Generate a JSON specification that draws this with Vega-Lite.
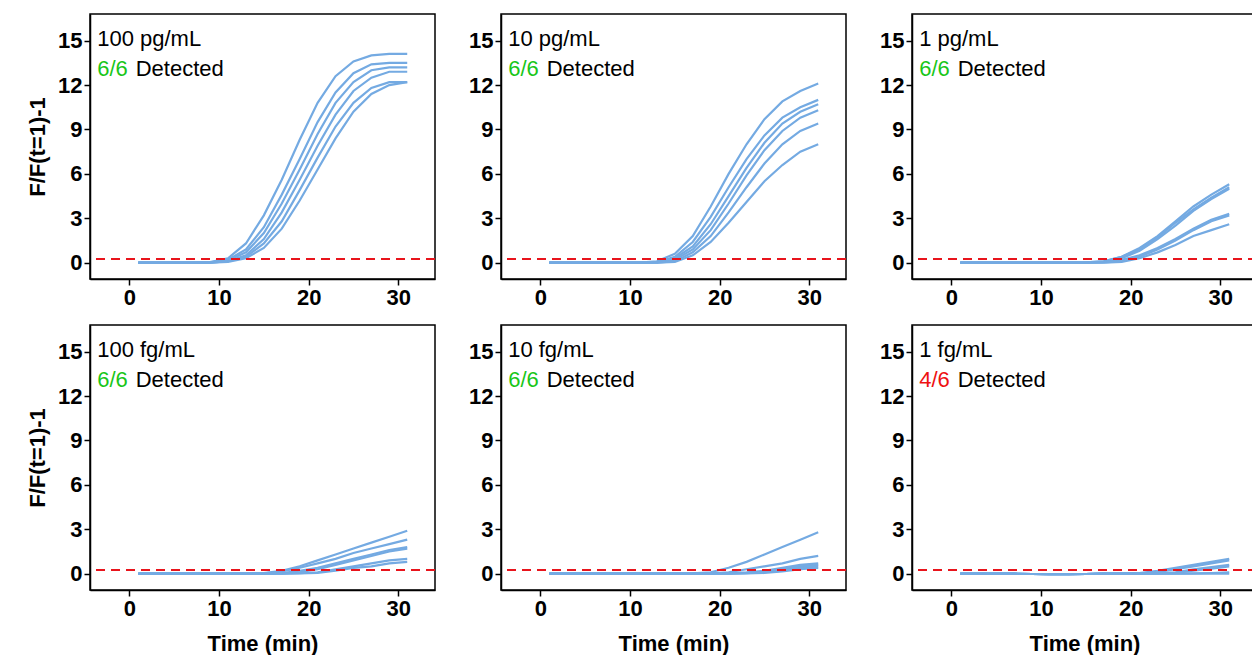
{
"$schema":"https://vega.github.io/schema/vega-lite/v6.json",
"background":"white",
"padding":{"left":25,"top":13,"right":0,"bottom":0},
"config":{"view":{"stroke":"black","strokeWidth":1.5},
"axis":{"grid":false,"domainColor":"black","tickColor":"black","tickSize":6,"labelFont":"Liberation Sans","labelFontSize":22,"labelFontWeight":"bold","labelColor":"black","titleFont":"Liberation Sans","titleFontSize":22,"titleFontWeight":"bold","titleColor":"black","domainWidth":1.5,"tickWidth":1.5},
"axisX":{"titlePadding":14}},
"datasets":{
"labels":[
{"p":1,"conc":"100 pg/mL","det":"6/6","col":"#19c619","thr":0.25},
{"p":2,"conc":"10 pg/mL","det":"6/6","col":"#19c619","thr":0.25},
{"p":3,"conc":"1 pg/mL","det":"6/6","col":"#19c619","thr":0.25},
{"p":4,"conc":"100 fg/mL","det":"6/6","col":"#19c619","thr":0.25},
{"p":5,"conc":"10 fg/mL","det":"6/6","col":"#19c619","thr":0.25},
{"p":6,"conc":"1 fg/mL","det":"4/6","col":"#ee1111","thr":0.25}],
"curves":[
{"p":1,"t":1,"a":0,"b":0,"c":0,"d":0,"e":0,"f":0},{"p":1,"t":3,"a":0,"b":0,"c":0,"d":0,"e":0,"f":0},{"p":1,"t":5,"a":0,"b":0,"c":0,"d":0,"e":0,"f":0},{"p":1,"t":7,"a":0,"b":0,"c":0,"d":0,"e":0,"f":0},{"p":1,"t":9,"a":0.05,"b":0.03,"c":0.02,"d":0,"e":0,"f":0},
{"p":1,"t":11,"a":0.3,"b":0.2,"c":0.15,"d":0.1,"e":0.1,"f":0.05},{"p":1,"t":13,"a":1.3,"b":0.9,"c":0.7,"d":0.5,"e":0.4,"f":0.3},{"p":1,"t":15,"a":3.2,"b":2.4,"c":2.0,"d":1.6,"e":1.3,"f":1.0},{"p":1,"t":17,"a":5.6,"b":4.6,"c":4.0,"d":3.4,"e":2.8,"f":2.3},{"p":1,"t":19,"a":8.3,"b":7.0,"c":6.3,"d":5.6,"e":4.9,"f":4.2},{"p":1,"t":21,"a":10.8,"b":9.5,"c":8.7,"d":7.9,"e":7.1,"f":6.3},{"p":1,"t":23,"a":12.6,"b":11.5,"c":10.8,"d":10.0,"e":9.2,"f":8.4},{"p":1,"t":25,"a":13.6,"b":12.8,"c":12.2,"d":11.6,"e":10.8,"f":10.2},{"p":1,"t":27,"a":14.0,"b":13.4,"c":13.0,"d":12.5,"e":11.8,"f":11.4},{"p":1,"t":29,"a":14.1,"b":13.5,"c":13.2,"d":12.9,"e":12.2,"f":12.0},{"p":1,"t":31,"a":14.1,"b":13.5,"c":13.2,"d":12.9,"e":12.2,"f":12.2},
{"p":2,"t":1,"a":0,"b":0,"c":0,"d":0,"e":0,"f":0},{"p":2,"t":3,"a":0,"b":0,"c":0,"d":0,"e":0,"f":0},{"p":2,"t":5,"a":0,"b":0,"c":0,"d":0,"e":0,"f":0},{"p":2,"t":7,"a":0,"b":0,"c":0,"d":0,"e":0,"f":0},{"p":2,"t":9,"a":0,"b":0,"c":0,"d":0,"e":0,"f":0},{"p":2,"t":11,"a":0,"b":0,"c":0,"d":0,"e":0,"f":0},
{"p":2,"t":13,"a":0.1,"b":0.05,"c":0.03,"d":0.02,"e":0,"f":0},{"p":2,"t":15,"a":0.6,"b":0.4,"c":0.3,"d":0.2,"e":0.1,"f":0.05},{"p":2,"t":17,"a":1.8,"b":1.4,"c":1.1,"d":0.9,"e":0.7,"f":0.5},{"p":2,"t":19,"a":3.8,"b":3.1,"c":2.6,"d":2.2,"e":1.8,"f":1.4},{"p":2,"t":21,"a":6.0,"b":5.1,"c":4.5,"d":4.0,"e":3.4,"f":2.7},{"p":2,"t":23,"a":8.0,"b":7.0,"c":6.4,"d":5.9,"e":5.1,"f":4.1},{"p":2,"t":25,"a":9.7,"b":8.6,"c":8.1,"d":7.6,"e":6.7,"f":5.5},{"p":2,"t":27,"a":10.9,"b":9.8,"c":9.4,"d":8.9,"e":8.0,"f":6.6},{"p":2,"t":29,"a":11.6,"b":10.5,"c":10.2,"d":9.8,"e":8.9,"f":7.5},{"p":2,"t":31,"a":12.1,"b":11.0,"c":10.7,"d":10.3,"e":9.4,"f":8.0},
{"p":3,"t":1,"a":0,"b":0,"c":0,"d":0,"e":0,"f":0},{"p":3,"t":3,"a":0,"b":0,"c":0,"d":0,"e":0,"f":0},{"p":3,"t":5,"a":0,"b":0,"c":0,"d":0,"e":0,"f":0},{"p":3,"t":7,"a":0,"b":0,"c":0,"d":0,"e":0,"f":0},{"p":3,"t":9,"a":0,"b":0,"c":0,"d":0,"e":0,"f":0},{"p":3,"t":11,"a":0,"b":0,"c":0,"d":0,"e":0,"f":0},{"p":3,"t":13,"a":0,"b":0,"c":0,"d":0,"e":0,"f":0},{"p":3,"t":15,"a":0.02,"b":0.02,"c":0,"d":0,"e":0,"f":0},
{"p":3,"t":17,"a":0.1,"b":0.1,"c":0.05,"d":0.05,"e":0.02,"f":0},{"p":3,"t":19,"a":0.4,"b":0.4,"c":0.3,"d":0.2,"e":0.1,"f":0.05},{"p":3,"t":21,"a":1.0,"b":0.9,"c":0.8,"d":0.5,"e":0.4,"f":0.3},{"p":3,"t":23,"a":1.8,"b":1.7,"c":1.6,"d":1.0,"e":0.9,"f":0.7},{"p":3,"t":25,"a":2.8,"b":2.7,"c":2.5,"d":1.6,"e":1.5,"f":1.2},{"p":3,"t":27,"a":3.8,"b":3.6,"c":3.5,"d":2.3,"e":2.2,"f":1.8},{"p":3,"t":29,"a":4.6,"b":4.4,"c":4.3,"d":2.9,"e":2.8,"f":2.2},{"p":3,"t":31,"a":5.3,"b":5.1,"c":5.0,"d":3.3,"e":3.2,"f":2.6},
{"p":4,"t":1,"a":0,"b":0,"c":0,"d":0,"e":0,"f":0},{"p":4,"t":3,"a":0,"b":0,"c":0,"d":0,"e":0,"f":0},{"p":4,"t":5,"a":0,"b":0,"c":0,"d":0,"e":0,"f":0},{"p":4,"t":7,"a":0,"b":0,"c":0,"d":0,"e":0,"f":0},{"p":4,"t":9,"a":0,"b":0,"c":0,"d":0,"e":0,"f":0},{"p":4,"t":11,"a":0,"b":0,"c":0,"d":0,"e":0,"f":0},{"p":4,"t":13,"a":0,"b":0,"c":0,"d":0,"e":0,"f":0},
{"p":4,"t":15,"a":0.05,"b":0.02,"c":0,"d":0,"e":0,"f":0},{"p":4,"t":17,"a":0.2,"b":0.15,"c":0.05,"d":0.02,"e":0,"f":0},{"p":4,"t":19,"a":0.5,"b":0.4,"c":0.2,"d":0.1,"e":0.03,"f":0.02},{"p":4,"t":21,"a":0.9,"b":0.7,"c":0.4,"d":0.3,"e":0.1,"f":0.05},{"p":4,"t":23,"a":1.3,"b":1.0,"c":0.7,"d":0.6,"e":0.3,"f":0.2},{"p":4,"t":25,"a":1.7,"b":1.4,"c":1.0,"d":0.9,"e":0.5,"f":0.4},{"p":4,"t":27,"a":2.1,"b":1.7,"c":1.3,"d":1.2,"e":0.7,"f":0.5},{"p":4,"t":29,"a":2.5,"b":2.0,"c":1.6,"d":1.5,"e":0.9,"f":0.7},{"p":4,"t":31,"a":2.9,"b":2.3,"c":1.8,"d":1.7,"e":1.0,"f":0.8},
{"p":5,"t":1,"a":0,"b":0,"c":0,"d":0,"e":0,"f":0},{"p":5,"t":3,"a":0,"b":0,"c":0,"d":0,"e":0,"f":0},{"p":5,"t":5,"a":0,"b":0,"c":0,"d":0,"e":0,"f":0},{"p":5,"t":7,"a":0,"b":0,"c":0,"d":0,"e":0,"f":0},{"p":5,"t":9,"a":0,"b":0,"c":0,"d":0,"e":0,"f":0},{"p":5,"t":11,"a":0,"b":0,"c":0,"d":0,"e":0,"f":0},{"p":5,"t":13,"a":0,"b":0,"c":0,"d":0,"e":0,"f":0},{"p":5,"t":15,"a":0,"b":0,"c":0,"d":0,"e":0,"f":0},{"p":5,"t":17,"a":0.02,"b":0,"c":0,"d":0,"e":0,"f":0},
{"p":5,"t":19,"a":0.1,"b":0.02,"c":0,"d":0,"e":0,"f":0},{"p":5,"t":21,"a":0.4,"b":0.1,"c":0.03,"d":0.02,"e":0,"f":0},{"p":5,"t":23,"a":0.8,"b":0.3,"c":0.1,"d":0.05,"e":0.03,"f":0.02},{"p":5,"t":25,"a":1.3,"b":0.5,"c":0.2,"d":0.15,"e":0.1,"f":0.05},{"p":5,"t":27,"a":1.8,"b":0.7,"c":0.4,"d":0.3,"e":0.2,"f":0.15},{"p":5,"t":29,"a":2.3,"b":1.0,"c":0.6,"d":0.5,"e":0.4,"f":0.3},{"p":5,"t":31,"a":2.8,"b":1.2,"c":0.7,"d":0.6,"e":0.5,"f":0.4},
{"p":6,"t":1,"a":0,"b":0,"c":0,"d":0,"e":0,"f":0},{"p":6,"t":3,"a":0,"b":0,"c":0,"d":0,"e":0,"f":0},{"p":6,"t":5,"a":0,"b":0,"c":0,"d":0,"e":0,"f":0},{"p":6,"t":7,"a":0,"b":0,"c":0,"d":0,"e":0,"f":0},{"p":6,"t":9,"a":-0.02,"b":-0.02,"c":-0.02,"d":-0.02,"e":-0.02,"f":-0.02},{"p":6,"t":11,"a":-0.03,"b":-0.03,"c":-0.03,"d":-0.03,"e":-0.03,"f":-0.03},{"p":6,"t":13,"a":-0.03,"b":-0.03,"c":-0.03,"d":-0.03,"e":-0.03,"f":-0.03},{"p":6,"t":15,"a":-0.02,"b":-0.02,"c":-0.02,"d":-0.02,"e":-0.02,"f":-0.02},{"p":6,"t":17,"a":0,"b":0,"c":0,"d":0,"e":0,"f":0},{"p":6,"t":19,"a":0,"b":0,"c":0,"d":0,"e":0,"f":0},
{"p":6,"t":21,"a":0.05,"b":0.02,"c":0,"d":0,"e":0,"f":0},{"p":6,"t":23,"a":0.2,"b":0.1,"c":0.03,"d":0.02,"e":0,"f":0},{"p":6,"t":25,"a":0.4,"b":0.3,"c":0.1,"d":0.05,"e":0,"f":0},{"p":6,"t":27,"a":0.6,"b":0.5,"c":0.3,"d":0.2,"e":0.02,"f":0},{"p":6,"t":29,"a":0.8,"b":0.7,"c":0.45,"d":0.35,"e":0.05,"f":0},{"p":6,"t":31,"a":1.0,"b":0.9,"c":0.6,"d":0.5,"e":0.1,"f":0}]
},
"vconcat":[
{"hconcat":[
{"width":345,"height":265,"layer":[
{"data":{"name":"curves"},"transform":[{"filter":"datum.p==1"},{"fold":["a","b","c","d","e","f"],"as":["k","v"]}],"mark":{"type":"line","color":"#74aae2","strokeWidth":2.2},"encoding":{"x":{"field":"t","type":"quantitative","scale":{"domain":[-4.4,34.1],"nice":false,"zero":false},"axis":{"values":[0,10,20,30],"title":null}},"y":{"field":"v","type":"quantitative","scale":{"domain":[-1.1,16.8],"nice":false},"axis":{"values":[0,3,6,9,12,15],"title":"F/F(t=1)-1","titlePadding":8}},"detail":{"field":"k"}}},
{"data":{"name":"labels"},"transform":[{"filter":"datum.p==1"}],"mark":{"type":"rule","color":"#e8141c","strokeDash":[9,6],"strokeWidth":2},"encoding":{"y":{"field":"thr","type":"quantitative"}}},
{"data":{"name":"labels"},"transform":[{"filter":"datum.p==1"}],"mark":{"type":"text","align":"left","font":"Liberation Sans","fontSize":22},"encoding":{"x":{"datum":-3.6},"y":{"datum":15.1},"text":{"field":"conc"}}},
{"data":{"name":"labels"},"transform":[{"filter":"datum.p==1"}],"mark":{"type":"text","align":"left","font":"Liberation Sans","fontSize":22},"encoding":{"x":{"datum":-3.6},"y":{"datum":13.1},"text":{"field":"det"},"color":{"field":"col","type":"nominal","scale":null}}},
{"data":{"name":"labels"},"transform":[{"filter":"datum.p==1"}],"mark":{"type":"text","align":"left","font":"Liberation Sans","fontSize":22,"text":"Detected"},"encoding":{"x":{"datum":0.7},"y":{"datum":13.1}}}]},
{"width":345,"height":265,"layer":[
{"data":{"name":"curves"},"transform":[{"filter":"datum.p==2"},{"fold":["a","b","c","d","e","f"],"as":["k","v"]}],"mark":{"type":"line","color":"#74aae2","strokeWidth":2.2},"encoding":{"x":{"field":"t","type":"quantitative","scale":{"domain":[-4.4,34.1],"nice":false,"zero":false},"axis":{"values":[0,10,20,30],"title":null}},"y":{"field":"v","type":"quantitative","scale":{"domain":[-1.1,16.8],"nice":false},"axis":{"values":[0,3,6,9,12,15],"title":null}},"detail":{"field":"k"}}},
{"data":{"name":"labels"},"transform":[{"filter":"datum.p==2"}],"mark":{"type":"rule","color":"#e8141c","strokeDash":[9,6],"strokeWidth":2},"encoding":{"y":{"field":"thr","type":"quantitative"}}},
{"data":{"name":"labels"},"transform":[{"filter":"datum.p==2"}],"mark":{"type":"text","align":"left","font":"Liberation Sans","fontSize":22},"encoding":{"x":{"datum":-3.6},"y":{"datum":15.1},"text":{"field":"conc"}}},
{"data":{"name":"labels"},"transform":[{"filter":"datum.p==2"}],"mark":{"type":"text","align":"left","font":"Liberation Sans","fontSize":22},"encoding":{"x":{"datum":-3.6},"y":{"datum":13.1},"text":{"field":"det"},"color":{"field":"col","type":"nominal","scale":null}}},
{"data":{"name":"labels"},"transform":[{"filter":"datum.p==2"}],"mark":{"type":"text","align":"left","font":"Liberation Sans","fontSize":22,"text":"Detected"},"encoding":{"x":{"datum":0.7},"y":{"datum":13.1}}}]},
{"width":345,"height":265,"layer":[
{"data":{"name":"curves"},"transform":[{"filter":"datum.p==3"},{"fold":["a","b","c","d","e","f"],"as":["k","v"]}],"mark":{"type":"line","color":"#74aae2","strokeWidth":2.2},"encoding":{"x":{"field":"t","type":"quantitative","scale":{"domain":[-4.4,34.1],"nice":false,"zero":false},"axis":{"values":[0,10,20,30],"title":null}},"y":{"field":"v","type":"quantitative","scale":{"domain":[-1.1,16.8],"nice":false},"axis":{"values":[0,3,6,9,12,15],"title":null}},"detail":{"field":"k"}}},
{"data":{"name":"labels"},"transform":[{"filter":"datum.p==3"}],"mark":{"type":"rule","color":"#e8141c","strokeDash":[9,6],"strokeWidth":2},"encoding":{"y":{"field":"thr","type":"quantitative"}}},
{"data":{"name":"labels"},"transform":[{"filter":"datum.p==3"}],"mark":{"type":"text","align":"left","font":"Liberation Sans","fontSize":22},"encoding":{"x":{"datum":-3.6},"y":{"datum":15.1},"text":{"field":"conc"}}},
{"data":{"name":"labels"},"transform":[{"filter":"datum.p==3"}],"mark":{"type":"text","align":"left","font":"Liberation Sans","fontSize":22},"encoding":{"x":{"datum":-3.6},"y":{"datum":13.1},"text":{"field":"det"},"color":{"field":"col","type":"nominal","scale":null}}},
{"data":{"name":"labels"},"transform":[{"filter":"datum.p==3"}],"mark":{"type":"text","align":"left","font":"Liberation Sans","fontSize":22,"text":"Detected"},"encoding":{"x":{"datum":0.7},"y":{"datum":13.1}}}]}
],"spacing":30},
{"hconcat":[
{"width":345,"height":265,"layer":[
{"data":{"name":"curves"},"transform":[{"filter":"datum.p==4"},{"fold":["a","b","c","d","e","f"],"as":["k","v"]}],"mark":{"type":"line","color":"#74aae2","strokeWidth":2.2},"encoding":{"x":{"field":"t","type":"quantitative","scale":{"domain":[-4.4,34.1],"nice":false,"zero":false},"axis":{"values":[0,10,20,30],"title":"Time (min)"}},"y":{"field":"v","type":"quantitative","scale":{"domain":[-1.1,16.8],"nice":false},"axis":{"values":[0,3,6,9,12,15],"title":"F/F(t=1)-1","titlePadding":8}},"detail":{"field":"k"}}},
{"data":{"name":"labels"},"transform":[{"filter":"datum.p==4"}],"mark":{"type":"rule","color":"#e8141c","strokeDash":[9,6],"strokeWidth":2},"encoding":{"y":{"field":"thr","type":"quantitative"}}},
{"data":{"name":"labels"},"transform":[{"filter":"datum.p==4"}],"mark":{"type":"text","align":"left","font":"Liberation Sans","fontSize":22},"encoding":{"x":{"datum":-3.6},"y":{"datum":15.1},"text":{"field":"conc"}}},
{"data":{"name":"labels"},"transform":[{"filter":"datum.p==4"}],"mark":{"type":"text","align":"left","font":"Liberation Sans","fontSize":22},"encoding":{"x":{"datum":-3.6},"y":{"datum":13.1},"text":{"field":"det"},"color":{"field":"col","type":"nominal","scale":null}}},
{"data":{"name":"labels"},"transform":[{"filter":"datum.p==4"}],"mark":{"type":"text","align":"left","font":"Liberation Sans","fontSize":22,"text":"Detected"},"encoding":{"x":{"datum":0.7},"y":{"datum":13.1}}}]},
{"width":345,"height":265,"layer":[
{"data":{"name":"curves"},"transform":[{"filter":"datum.p==5"},{"fold":["a","b","c","d","e","f"],"as":["k","v"]}],"mark":{"type":"line","color":"#74aae2","strokeWidth":2.2},"encoding":{"x":{"field":"t","type":"quantitative","scale":{"domain":[-4.4,34.1],"nice":false,"zero":false},"axis":{"values":[0,10,20,30],"title":"Time (min)"}},"y":{"field":"v","type":"quantitative","scale":{"domain":[-1.1,16.8],"nice":false},"axis":{"values":[0,3,6,9,12,15],"title":null}},"detail":{"field":"k"}}},
{"data":{"name":"labels"},"transform":[{"filter":"datum.p==5"}],"mark":{"type":"rule","color":"#e8141c","strokeDash":[9,6],"strokeWidth":2},"encoding":{"y":{"field":"thr","type":"quantitative"}}},
{"data":{"name":"labels"},"transform":[{"filter":"datum.p==5"}],"mark":{"type":"text","align":"left","font":"Liberation Sans","fontSize":22},"encoding":{"x":{"datum":-3.6},"y":{"datum":15.1},"text":{"field":"conc"}}},
{"data":{"name":"labels"},"transform":[{"filter":"datum.p==5"}],"mark":{"type":"text","align":"left","font":"Liberation Sans","fontSize":22},"encoding":{"x":{"datum":-3.6},"y":{"datum":13.1},"text":{"field":"det"},"color":{"field":"col","type":"nominal","scale":null}}},
{"data":{"name":"labels"},"transform":[{"filter":"datum.p==5"}],"mark":{"type":"text","align":"left","font":"Liberation Sans","fontSize":22,"text":"Detected"},"encoding":{"x":{"datum":0.7},"y":{"datum":13.1}}}]},
{"width":345,"height":265,"layer":[
{"data":{"name":"curves"},"transform":[{"filter":"datum.p==6"},{"fold":["a","b","c","d","e","f"],"as":["k","v"]}],"mark":{"type":"line","color":"#74aae2","strokeWidth":2.2},"encoding":{"x":{"field":"t","type":"quantitative","scale":{"domain":[-4.4,34.1],"nice":false,"zero":false},"axis":{"values":[0,10,20,30],"title":"Time (min)"}},"y":{"field":"v","type":"quantitative","scale":{"domain":[-1.1,16.8],"nice":false},"axis":{"values":[0,3,6,9,12,15],"title":null}},"detail":{"field":"k"}}},
{"data":{"name":"labels"},"transform":[{"filter":"datum.p==6"}],"mark":{"type":"rule","color":"#e8141c","strokeDash":[9,6],"strokeWidth":2},"encoding":{"y":{"field":"thr","type":"quantitative"}}},
{"data":{"name":"labels"},"transform":[{"filter":"datum.p==6"}],"mark":{"type":"text","align":"left","font":"Liberation Sans","fontSize":22},"encoding":{"x":{"datum":-3.6},"y":{"datum":15.1},"text":{"field":"conc"}}},
{"data":{"name":"labels"},"transform":[{"filter":"datum.p==6"}],"mark":{"type":"text","align":"left","font":"Liberation Sans","fontSize":22},"encoding":{"x":{"datum":-3.6},"y":{"datum":13.1},"text":{"field":"det"},"color":{"field":"col","type":"nominal","scale":null}}},
{"data":{"name":"labels"},"transform":[{"filter":"datum.p==6"}],"mark":{"type":"text","align":"left","font":"Liberation Sans","fontSize":22,"text":"Detected"},"encoding":{"x":{"datum":0.7},"y":{"datum":13.1}}}]}
],"spacing":30}
],"spacing":15}
